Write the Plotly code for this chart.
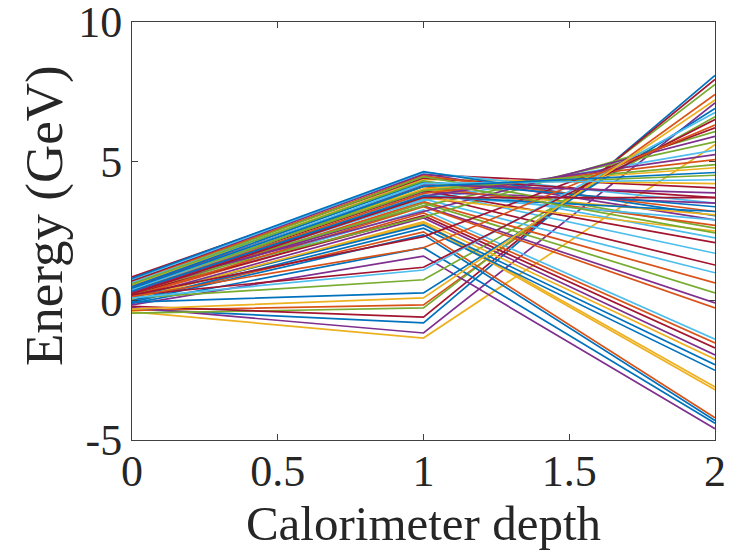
import plotly.graph_objects as go

# Calorimeter depth positions (layer index)
depth = [0, 1, 2]

# Energy deposited per event in each of the three layers (GeV)
layer0 = [
    -0.30, -0.35, -0.40, -0.25, -0.45, 0.20, -0.20,
    -0.10, 0.00, 0.05, -0.15, 0.20, 0.40, 0.35,
    -0.05, 0.15, 0.10, 0.10, 0.10, 0.30, 0.25,
    0.10, 0.25, 0.05, 0.30, 0.45, 0.50, 0.85,
    0.00, 0.15, 0.55, 0.70, 0.45, 0.75, 0.70,
    0.80, 0.65, 0.55, 0.45, 0.60, 0.65, 0.35,
    -0.05, 0.50, 0.40, 0.45, 0.30, 0.40, 0.20,
    0.50, 0.35, 0.30, 0.30, 0.45, 0.10, 0.20,
    0.35, 0.15, -0.30, 0.45, 0.60, 0.40, 0.25,
    0.45,
]
layer1 = [
    -0.80, -0.15, -1.34, -1.16, -0.26, 3.26, -0.59,
    1.90, 2.47, 2.80, 1.60, 3.50, 3.95, 3.80,
    2.36, 3.15, 2.75, 2.97, 0.75, 3.65, 3.05,
    2.72, 3.55, 2.84, 3.40, 3.00, 3.60, 4.52,
    2.60, 3.37, 4.35, 4.55, 3.40, 4.60, 4.40,
    4.63, 4.48, 4.00, 3.90, 4.45, 4.22, 3.95,
    0.28, 4.10, 4.00, 3.20, 4.10, 3.80, 2.30,
    4.27, 3.85, 3.70, 3.75, 3.95, 1.10, 1.20,
    3.75, 1.90, 0.10, 4.16, 4.30, 4.20, 3.70,
    4.10,
]
layer2 = [
    8.08, 7.40, 5.60, 7.10, 7.76, -1.38, 7.94,
    -4.40, -4.20, -3.10, -4.60, 0.28, 1.70, 1.28,
    -4.30, -1.52, -3.20, -1.95, 6.60, 1.00, -1.70,
    -2.30, 0.64, -2.10, -0.08, 6.07, 5.40, 4.05,
    -2.50, -0.26, 4.20, 2.90, 5.70, 3.50, 3.70,
    3.05, 3.20, 3.08, 3.50, 2.60, 2.25, 2.08,
    6.90, 2.70, 4.77, 5.90, 4.50, 2.90, 6.20,
    3.37, 5.06, 2.50, 5.24, 4.88, 6.75, 6.50,
    3.20, 6.30, 7.20, 3.87, 2.43, 4.34, 3.70,
    4.60,
]

x_tick_vals = [0, 0.5, 1, 1.5, 2]
x_tick_text = ["0", "0.5", "1", "1.5", "2"]
y_tick_vals = [-5, 0, 5, 10]
y_tick_text = ["-5", "0", "5", "10"]

# MATLAB default line colour order
matlab_colors = ["#0072BD", "#D95319", "#EDB120", "#7E2F8E",
                 "#77AC30", "#4DBEEE", "#A2142F"]

fig = go.Figure()
for i in range(len(layer0)):
    fig.add_trace(go.Scatter(
        x=depth,
        y=[layer0[i], layer1[i], layer2[i]],
        mode="lines",
        line=dict(width=1.7, color=matlab_colors[i % len(matlab_colors)]),
        showlegend=False,
        hoverinfo="skip",
    ))

serif = "Liberation Serif, Times New Roman, serif"
text_color = "#262626"
axis_common = dict(
    showline=True, linecolor="#404040", linewidth=1, mirror="ticks",
    ticks="inside", ticklen=6, tickwidth=1, tickcolor="#404040",
    showgrid=False, zeroline=False, ticklabeloverflow="allow",
    automargin=False,
    tickfont=dict(family=serif, size=44, color=text_color),
)

fig.update_layout(
    width=730, height=556,
    margin=dict(l=132, r=15, t=22, b=116),
    paper_bgcolor="white", plot_bgcolor="white",
    xaxis=dict(range=[0, 2], tickvals=x_tick_vals, ticktext=x_tick_text,
               ticklabelstandoff=-8,
               title=dict(text="Calorimeter depth", standoff=10,
                          font=dict(family=serif, size=49, color=text_color)),
               **axis_common),
    yaxis=dict(range=[-5, 10], tickvals=y_tick_vals, ticktext=y_tick_text,
               **axis_common),
    annotations=[dict(
        text="Energy (GeV)", textangle=-90, showarrow=False,
        xref="paper", yref="paper", x=-0.149, y=0.536,
        xanchor="center", yanchor="middle",
        font=dict(family=serif, size=53, color=text_color),
    )],
)

fig.write_html("out.html")
